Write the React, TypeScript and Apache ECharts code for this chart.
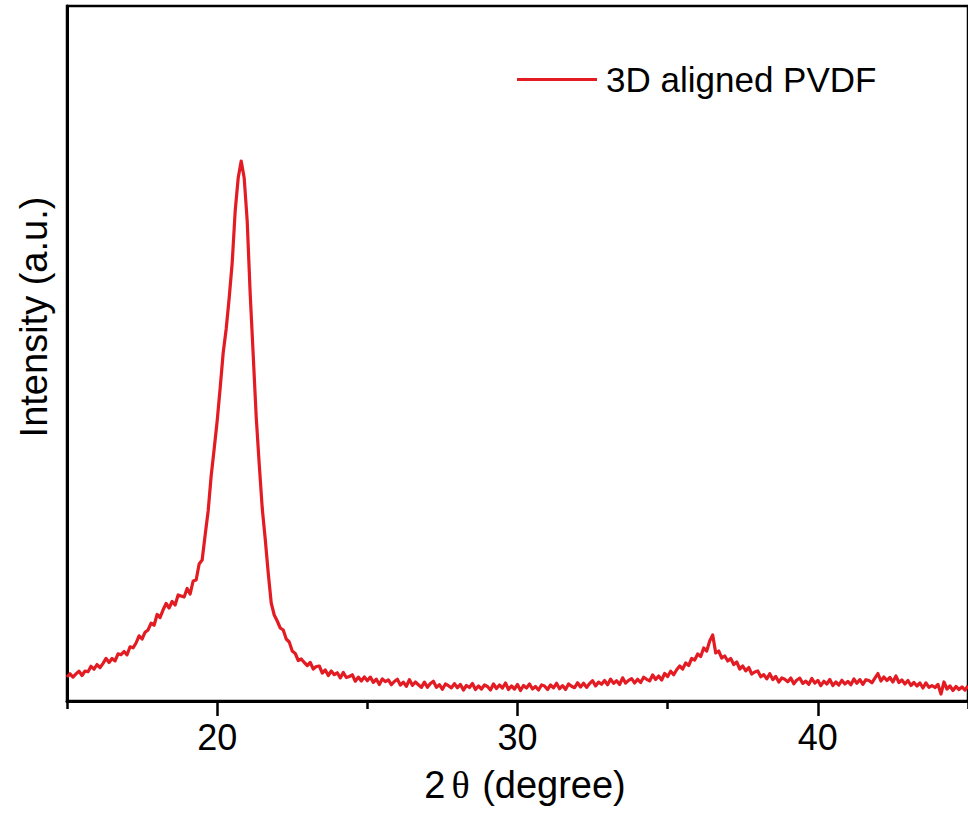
import React, { useEffect, useRef } from "react";
import * as echarts from "echarts";

// 2θ sampling grid (degrees)
const angleStart = 15;
const angleStep = 0.1;

const intensity: number[] = [
  240, 272, 239, 271, 298, 255, 300, 293, 347, 318,
  365, 333, 377, 426, 385, 425, 401, 472, 463, 495,
  462, 542, 532, 580, 652, 620, 688, 711, 779, 757,
  865, 835, 912, 975, 930, 995, 960, 1060, 1050, 1040,
  1125, 1070, 1200, 1210, 1370, 1410, 1660, 1900, 2250, 2520,
  2800, 3130, 3480, 3720, 4030, 4380, 4900, 5230, 5400, 5230,
  4800, 4070, 3460, 2840, 2370, 1930, 1620, 1280, 980, 860,
  800, 730, 710, 620, 590, 500, 475, 405, 420, 385,
  355, 385, 320, 345, 350, 280, 310, 255, 300, 263,
  282, 231, 285, 235, 245, 262, 198, 239, 200, 241,
  202, 239, 186, 218, 165, 222, 194, 211, 163, 195,
  217, 160, 188, 146, 214, 157, 190, 163, 136, 189,
  137, 175, 198, 136, 164, 117, 170, 153, 131, 174,
  132, 166, 110, 155, 135, 175, 115, 150, 120, 160,
  145, 110, 170, 125, 160, 130, 180, 115, 150, 120,
  165, 105, 155, 130, 170, 120, 145, 110, 160, 150,
  115, 160, 131, 177, 123, 154, 115, 171, 147, 133,
  182, 140, 178, 136, 174, 203, 151, 189, 167, 205,
  162, 219, 176, 203, 165, 232, 179, 206, 223, 180,
  217, 185, 238, 217, 201, 260, 215, 250, 210, 275,
  245, 298, 262, 313, 350, 320, 380, 355, 425, 410,
  470, 445, 530, 500, 600, 660, 480, 500, 430, 450,
  400, 425, 365, 390, 320, 350, 302, 335, 270, 290,
  300, 242, 264, 221, 273, 215, 245, 190, 230, 217,
  193, 230, 172, 210, 228, 176, 199, 167, 225, 178,
  206, 154, 197, 170, 215, 155, 190, 160, 207, 169,
  196, 163, 220, 177, 214, 166, 213, 205, 182, 229,
  275, 200, 240, 205, 235, 190, 250, 185, 210, 170,
  205, 155, 185, 150, 180, 130, 181, 137, 153, 135,
  165, 70, 190, 120, 150, 105, 145, 115, 140, 110,
  150,
];

const seriesName = "3D aligned PVDF";
const majorTicks = [20, 30, 40];
const minorTicks = [15, 25, 35, 45];
const xMin = 15;
const xMax = 45;
const yMin = 0;
const yMax = 6950;
const xTitle = "2{t|θ} (degree)";
const yTitle = "Intensity (a.u.)";

const FONT = "'Liberation Sans', Arial, Helvetica, sans-serif";
const RED = "#e31b23";

export default function App() {
  const ref = useRef<HTMLDivElement>(null);

  useEffect(() => {
    if (!ref.current) return;
    const chart = echarts.init(ref.current, undefined, { renderer: "svg" });
    const data = intensity.map((v, i) => [
      Number((angleStart + i * angleStep).toFixed(1)),
      v,
    ]);
    chart.setOption({
      animation: false,
      backgroundColor: "#fff",
      grid: {
        left: 67,
        top: 6,
        right: -5,
        bottom: 112,
        show: true,
        borderColor: "#000",
        borderWidth: 2.5,
        backgroundColor: "transparent",
      },
      legend: {
        show: true,
        left: 517,
        top: 62,
        padding: 0,
        itemWidth: 80,
        itemHeight: 3,
        icon: "rect",
        itemStyle: { color: RED },
        textStyle: {
          fontSize: 35,
          color: "#000",
          fontFamily: FONT,
          padding: [0, 0, 0, 4],
        },
        data: [seriesName],
      },
      xAxis: [
        {
          type: "value",
          min: xMin,
          max: xMax,
          position: "bottom",
          axisLine: { show: true, onZero: false, lineStyle: { color: "#000", width: 3 } },
          axisTick: {
            show: true,
            inside: false,
            length: 15,
            customValues: majorTicks,
            lineStyle: { color: "#000", width: 2.5 },
          },
          axisLabel: {
            show: true,
            customValues: majorTicks,
            margin: 18,
            fontSize: 36,
            color: "#000",
            fontFamily: FONT,
          },
          splitLine: { show: false },
        },
        {
          type: "value",
          min: xMin,
          max: xMax,
          position: "bottom",
          axisLine: { show: false, onZero: false },
          axisTick: {
            show: true,
            inside: false,
            length: 8,
            customValues: minorTicks,
            lineStyle: { color: "#000", width: 2.5 },
          },
          axisLabel: { show: false },
          splitLine: { show: false },
        },
      ],
      yAxis: {
        type: "value",
        min: yMin,
        max: yMax,
        axisLine: { show: true, onZero: false, lineStyle: { color: "#000", width: 3 } },
        axisTick: { show: false },
        axisLabel: { show: false },
        splitLine: { show: false },
      },
      series: [
        {
          name: seriesName,
          type: "line",
          xAxisIndex: 0,
          data,
          symbol: "none",
          showSymbol: false,
          lineStyle: { color: RED, width: 3.2, join: "round" },
          itemStyle: { color: RED },
        },
      ],
      graphic: [
        {
          type: "text",
          x: 525,
          y: 785,
          style: {
            text: xTitle,
            fontSize: 38,
            fontFamily: FONT,
            fill: "#000",
            align: "center",
            verticalAlign: "middle",
            rich: {
              t: {
                fontSize: 38,
                fontFamily: "'Liberation Serif', 'DejaVu Serif', serif",
                padding: [0, 2, 0, 6],
                fill: "#000",
              },
            },
          },
        },
        {
          type: "text",
          x: 34,
          y: 317,
          rotation: Math.PI / 2,
          style: {
            text: yTitle,
            fontSize: 38,
            fontFamily: FONT,
            fill: "#000",
            align: "center",
            verticalAlign: "middle",
          },
        },
      ],
    });
    return () => chart.dispose();
  }, []);

  return (
    <div
      ref={ref}
      style={{ position: "absolute", left: 0, top: 0, width: 968, height: 813 }}
    />
  );
}
